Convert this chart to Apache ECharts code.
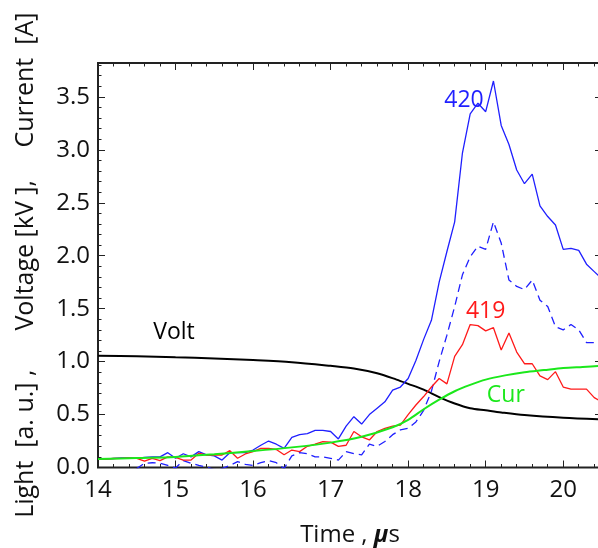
<!DOCTYPE html>
<html>
<head>
<meta charset="utf-8">
<script src="https://cdn.jsdelivr.net/npm/echarts@6/dist/echarts.min.js"></script>
<style>
  html, body { margin: 0; padding: 0; background: #fff; }
  #chart { width: 598px; height: 548px; }
</style>
</head>
<body>
<div id="chart"></div>
<script>
// Sample times (µs) for the light signals, 0.1 µs steps
const timeLight = [
  14.0, 14.1, 14.2, 14.3, 14.4, 14.5, 14.6, 14.7, 14.8, 14.9,
  15.0, 15.1, 15.2, 15.3, 15.4, 15.5, 15.6, 15.7, 15.8, 15.9,
  16.0, 16.1, 16.2, 16.3, 16.4, 16.5, 16.6, 16.7, 16.8, 16.9,
  17.0, 17.1, 17.2, 17.3, 17.4, 17.5, 17.6, 17.7, 17.8, 17.9,
  18.0, 18.1, 18.2, 18.3, 18.4, 18.5, 18.6, 18.7, 18.8, 18.9,
  19.0, 19.1, 19.2, 19.3, 19.4, 19.5, 19.6, 19.7, 19.8, 19.9,
  20.0, 20.1, 20.2, 20.3, 20.4, 20.5
];

// Shot 420, light (solid blue)
const light420 = [
  0.08, 0.08, 0.085, 0.09, 0.09, 0.087, 0.095, 0.10, 0.10, 0.14,
  0.087, 0.13, 0.10, 0.15, 0.12, 0.11, 0.07, 0.14, 0.14, 0.14,
  0.165, 0.21, 0.25, 0.22, 0.18, 0.285, 0.31, 0.32, 0.35, 0.35,
  0.34, 0.27, 0.39, 0.48, 0.41, 0.50, 0.56, 0.62, 0.73, 0.76,
  0.84, 1.01, 1.21, 1.39, 1.75, 2.04, 2.32, 2.97, 3.34, 3.44,
  3.36, 3.65, 3.23, 3.05, 2.81, 2.68, 2.77, 2.47, 2.37, 2.29,
  2.06, 2.07, 2.05, 1.92, 1.85, 1.78
];

// Shot 420, second light channel (dashed blue)
const light420b = [
  -0.05, -0.05, -0.05, -0.05, -0.04, -0.01, 0.04, 0.045, 0.04, 0.02,
  -0.005, 0.065, 0.04, 0.02, 0.005, -0.02, -0.01, 0.02, 0.055, 0.03,
  0.02, 0.045, 0.065, 0.045, -0.01, 0.11, 0.14, 0.13, 0.10, 0.10,
  0.087, 0.07, 0.15, 0.13, 0.12, 0.22, 0.20, 0.245, 0.31, 0.355,
  0.37, 0.43, 0.54, 0.72, 1.0, 1.25, 1.52, 1.82, 1.99, 2.09,
  2.06, 2.32, 2.12, 1.77, 1.71, 1.68, 1.77, 1.58, 1.52, 1.33,
  1.30, 1.35, 1.30, 1.18, 1.18, 1.18
];

// Shot 419, light (red)
const light419 = [
  0.08, 0.08, 0.085, 0.087, 0.09, 0.087, 0.06, 0.087, 0.065, 0.10,
  0.096, 0.07, 0.07, 0.134, 0.118, 0.118, 0.118, 0.159, 0.087, 0.128,
  0.15, 0.18, 0.18, 0.17, 0.12, 0.165, 0.15, 0.20, 0.22, 0.245,
  0.24, 0.20, 0.21, 0.34, 0.29, 0.26, 0.34, 0.37, 0.39, 0.40,
  0.50, 0.59, 0.67, 0.76, 0.84, 0.79, 1.05, 1.16, 1.35, 1.34,
  1.29, 1.32, 1.11, 1.27, 1.09, 0.98, 0.98, 0.865, 0.83, 0.905,
  0.76, 0.74, 0.74, 0.74, 0.66, 0.62
];

// Discharge current (green), smooth waveform
const timeCur = [14.0, 14.5, 15.0, 15.5, 16.0, 16.5, 17.0, 17.4, 17.8, 18.0, 18.2,
                 18.4, 18.6, 18.8, 19.0, 19.25, 19.5, 19.75, 20.0, 20.25, 20.5];
const current = [0.08, 0.09, 0.10, 0.125, 0.155, 0.19, 0.235, 0.29, 0.38, 0.45, 0.55,
                 0.64, 0.72, 0.78, 0.83, 0.87, 0.90, 0.92, 0.94, 0.95, 0.96];

// Gap voltage (black), smooth waveform
const timeVolt = [14.0, 14.5, 15.0, 15.5, 16.0, 16.5, 17.0, 17.3, 17.6, 17.85, 18.0,
                  18.2, 18.4, 18.6, 18.8, 19.0, 19.2, 19.5, 20.0, 20.5];
const voltage = [1.055, 1.05, 1.04, 1.03, 1.015, 0.995, 0.96, 0.935, 0.89, 0.83, 0.79,
                 0.735, 0.665, 0.605, 0.56, 0.54, 0.52, 0.495, 0.47, 0.455];

// Curve annotations: [text, time, value]
const tag420 = ['420', 18.72, 3.47];
const tag419 = ['419', 19.00, 1.47];
const tagVolt = ['Volt', 14.98, 1.275];
const tagCur = ['Cur', 19.26, 0.685];

const X_MIN = 14, X_MAX = 20.5, Y_MIN = 0, Y_MAX = 3.82;

const FONT = 'Open Sans';
const AX = '#222';

function pairs(t, v) { return t.map((x, i) => [x, v[i]]); }

function tagPoint(tag, color) {
  return {
    silent: true,
    symbol: 'circle',
    symbolSize: 1,
    itemStyle: { color: 'rgba(0,0,0,0)' },
    label: {
      show: true, position: 'inside', formatter: tag[0],
      color: color, fontSize: 23, fontFamily: FONT
    },
    data: [{ coord: [tag[1], tag[2]] }]
  };
}

function xAx(pos, interval, len, withLabels) {
  return {
    type: 'value', position: pos, min: X_MIN, max: X_MAX, interval: interval,
    axisLine: { show: true, onZero: false, lineStyle: { color: AX, width: 1 } },
    axisTick: { show: true, inside: true, length: len, lineStyle: { color: AX, width: 1 } },
    axisLabel: withLabels ? {
      show: true, fontSize: 24, fontFamily: FONT, color: '#111', margin: 11,
      showMaxLabel: false, formatter: v => String(v)
    } : { show: false },
    splitLine: { show: false }
  };
}

function yAx(pos, interval, len, withLabels) {
  return {
    type: 'value', position: pos, min: Y_MIN, max: Y_MAX, interval: interval,
    axisLine: { show: true, onZero: false, lineStyle: { color: AX, width: 1 } },
    axisTick: { show: true, inside: true, length: len, lineStyle: { color: AX, width: 1 } },
    axisLabel: withLabels ? {
      show: true, fontSize: 24, fontFamily: FONT, color: '#111', margin: 8,
      showMaxLabel: false, formatter: v => v.toFixed(1)
    } : { show: false },
    splitLine: { show: false }
  };
}

const xMain = xAx('bottom', 1, 7, true);
xMain.name = '{n|Time , }{mu|μ}{n|s}';
xMain.nameLocation = 'middle';
xMain.nameGap = 56;
xMain.nameTextStyle = {
  rich: {
    n: { fontSize: 24, fontFamily: FONT, color: '#111' },
    mu: { fontSize: 24, fontFamily: FONT, color: '#111', fontWeight: 'bold', fontStyle: 'italic' }
  }
};

const yMain = yAx('left', 0.5, 7, true);
yMain.name = 'Light  [a. u.] ,      Voltage [kV ],     Current  [A]';
yMain.nameLocation = 'middle';
yMain.nameRotate = 90;
yMain.nameGap = 60;
yMain.nameTextStyle = { fontSize: 25, fontFamily: FONT, color: '#111' };

const option = {
  animation: false,
  backgroundColor: '#fff',
  grid: {
    left: 98, top: 63, width: 504, height: 404.5,
    outerBoundsMode: 'none', containLabel: false,
    // frame around the plot area
    show: true, borderColor: '#222', borderWidth: 2, backgroundColor: 'rgba(0,0,0,0)'
  },
  xAxis: [
    xMain,
    xAx('top', 1, 7, false),
    xAx('bottom', 0.2, 3.5, false),
    xAx('top', 0.2, 3.5, false)
  ],
  yAxis: [
    yMain,
    yAx('right', 0.5, 7, false),
    yAx('left', 0.1, 3.5, false),
    yAx('right', 0.1, 3.5, false)
  ],
  series: [
    {
      name: 'Volt', type: 'line', data: pairs(timeVolt, voltage),
      smooth: 0.3, symbol: 'none', clip: true,
      lineStyle: { color: '#000', width: 2 },
      markPoint: tagPoint(tagVolt, '#000')
    },
    {
      name: '420b', type: 'line', data: pairs(timeLight, light420b),
      symbol: 'none', clip: true,
      lineStyle: { color: '#1f1fff', width: 1.3, type: [8, 5] }
    },
    {
      name: '420', type: 'line', data: pairs(timeLight, light420),
      symbol: 'none', clip: true,
      lineStyle: { color: '#1f1fff', width: 1.3 },
      markPoint: tagPoint(tag420, '#1f1fff')
    },
    {
      name: '419', type: 'line', data: pairs(timeLight, light419),
      symbol: 'none', clip: true,
      lineStyle: { color: '#ff1a1a', width: 1.3 },
      markPoint: tagPoint(tag419, '#ff1a1a')
    },
    {
      name: 'Cur', type: 'line', data: pairs(timeCur, current),
      smooth: 0.3, symbol: 'none', clip: true,
      lineStyle: { color: '#1be81b', width: 2 },
      markPoint: tagPoint(tagCur, '#1be81b')
    }
  ]
};

const chart = echarts.init(document.getElementById('chart'), null, { renderer: 'canvas' });
chart.setOption(option);
</script>
</body>
</html>
